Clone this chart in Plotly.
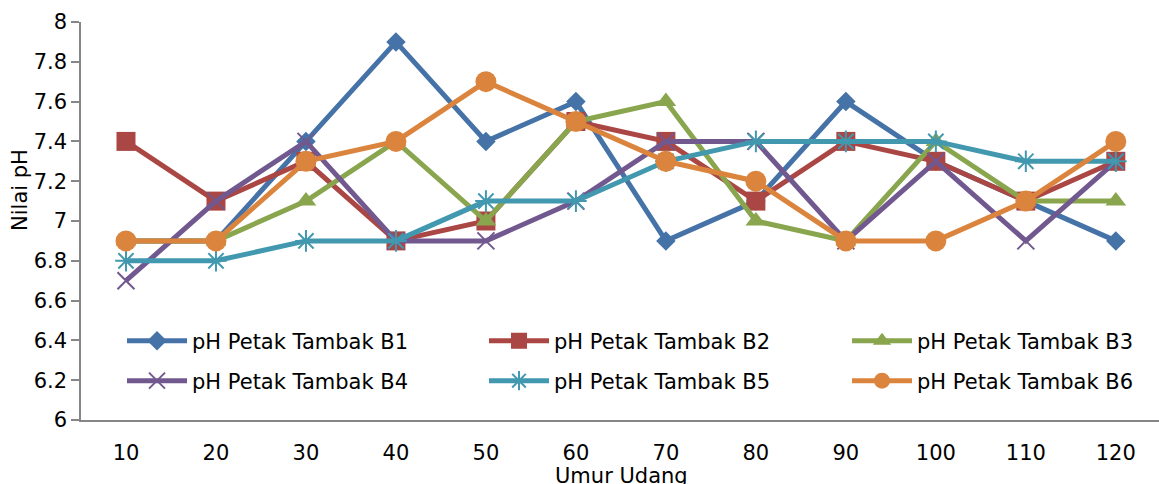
import plotly.graph_objects as go

umur = [10, 20, 30, 40, 50, 60, 70, 80, 90, 100, 110, 120]
names = ["pH Petak Tambak B1", "pH Petak Tambak B2", "pH Petak Tambak B3",
         "pH Petak Tambak B4", "pH Petak Tambak B5", "pH Petak Tambak B6"]
b1 = [6.9, 6.9, 7.4, 7.9, 7.4, 7.6, 6.9, 7.1, 7.6, 7.3, 7.1, 6.9]
b2 = [7.4, 7.1, 7.3, 6.9, 7.0, 7.5, 7.4, 7.1, 7.4, 7.3, 7.1, 7.3]
b3 = [6.9, 6.9, 7.1, 7.4, 7.0, 7.5, 7.6, 7.0, 6.9, 7.4, 7.1, 7.1]
b4 = [6.7, 7.1, 7.4, 6.9, 6.9, 7.1, 7.4, 7.4, 6.9, 7.3, 6.9, 7.3]
b5 = [6.8, 6.8, 6.9, 6.9, 7.1, 7.1, 7.3, 7.4, 7.4, 7.4, 7.3, 7.3]
b6 = [6.9, 6.9, 7.3, 7.4, 7.7, 7.5, 7.3, 7.2, 6.9, 6.9, 7.1, 7.4]
yticks = [6, 6.2, 6.4, 6.6, 6.8, 7, 7.2, 7.4, 7.6, 7.8, 8]
x_title = "Umur Udang"
y_title = "Nilai pH"

series = [b1, b2, b3, b4, b5, b6]
colors = ["#4572A7", "#AA4643", "#89A54E", "#71588F", "#4198AF", "#DB843D"]
symbols = ["diamond", "square", "triangle-up", "x-thin", "asterisk", "circle"]
sizes = [15, 19, 18, 17, 18, 21]
FONT = "DejaVu Sans"
FS = 21

# plot area in pixels: x 81..1159, y 22..420
W, H = 1159, 484
L, R, T, B = 81, 0, 22, 64
PW, PH = W - L - R, H - T - B


def px_x(px):
    return (px - L) / PW


def px_y(py):
    return (H - B - py) / PH


legend_cols = [122, 484, 847]
legend_rows = [341, 381]

fig = go.Figure()
legend_layout = {}
for i, (nm, ys) in enumerate(zip(names, series)):
    marker = dict(symbol=symbols[i], size=sizes[i], color=colors[i])
    if symbols[i] in ("x-thin", "asterisk"):
        marker["line"] = dict(color=colors[i], width=2)
    lname = "legend" if i == 0 else "legend%d" % (i + 1)
    fig.add_trace(go.Scatter(
        x=umur, y=ys, name=nm, mode="lines+markers",
        line=dict(color=colors[i], width=5),
        marker=marker,
        legend=lname,
    ))
    col, row = i % 3, i // 3
    legend_layout[lname] = dict(
        x=px_x(legend_cols[col]), y=px_y(legend_rows[row]),
        xanchor="left", yanchor="middle", orientation="v",
        itemwidth=60,
        font=dict(family=FONT, size=FS, color="#000000"),
        bgcolor="rgba(0,0,0,0)", itemclick=False, itemdoubleclick=False,
    )

fig.update_layout(
    width=W, height=H,
    margin=dict(l=L, r=R, t=T, b=B),
    paper_bgcolor="white", plot_bgcolor="white",
    showlegend=True,
    font=dict(family=FONT, size=FS, color="#000000"),
    xaxis=dict(
        range=[5, 124.8], tickmode="array", tickvals=umur,
        ticktext=[str(u) for u in umur],
        showgrid=False, zeroline=False,
        showline=True, linecolor="#868686", linewidth=1.5,
        ticks="", ticklabelstandoff=13,
        tickfont=dict(family=FONT, size=FS, color="#000000"),
    ),
    yaxis=dict(
        range=[6, 8], tickmode="array", tickvals=yticks,
        ticktext=[("%g" % v) for v in yticks],
        showgrid=False, zeroline=False,
        showline=True, linecolor="#868686", linewidth=1.5,
        ticks="outside", ticklen=8, tickcolor="#868686", tickwidth=1.5,
        tickfont=dict(family=FONT, size=FS, color="#000000"),
    ),
    annotations=[
        dict(text=y_title, xref="paper", yref="paper",
             x=px_x(20), y=px_y(190), xanchor="center", yanchor="middle",
             textangle=-90, showarrow=False,
             font=dict(family=FONT, size=FS, color="#000000")),
        dict(text=x_title, xref="paper", yref="paper",
             x=px_x(621), y=px_y(476), xanchor="center", yanchor="middle",
             showarrow=False,
             font=dict(family=FONT, size=FS, color="#000000")),
    ],
    **legend_layout,
)
fig.write_html("out.html")
